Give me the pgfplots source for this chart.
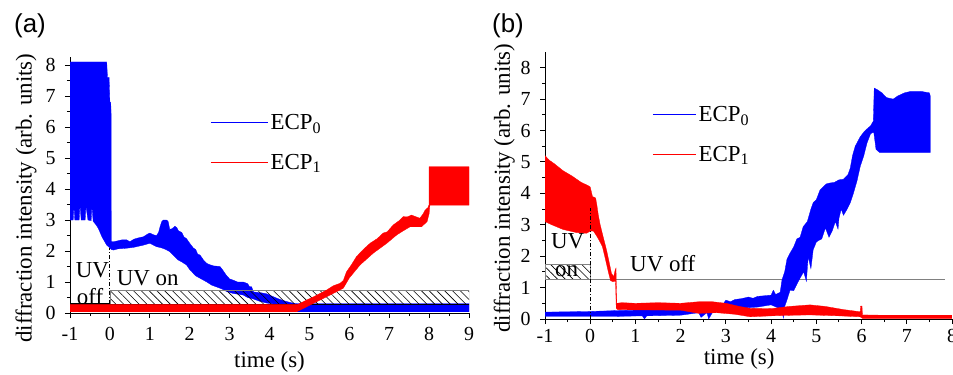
\documentclass[border=0pt]{standalone}
\usepackage{pgfplots}
\pgfplotsset{compat=1.18}
\usepackage{fontspec}
\setmainfont{Liberation Serif}
\newfontfamily\serifx{Liberation Serif}
\newfontfamily\panelfont{Liberation Sans}
\usetikzlibrary{patterns.meta}

\pgfplotsset{
  panel/.style={
    scale only axis, anchor=south west,
    axis lines=left, axis line style={-, line width=0.9pt},
    tick align=outside, major tick length=5bp, minor tick length=3bp,
    tick style={black, line width=0.9pt},
    minor x tick num=1, minor y tick num=1,
    ytick={0,1,2,3,4,5,6,7,8},
    yticklabels={0,1,2,3,4,5,6,7,8},
    ticklabel style={font=\serifx\fontsize{20}{20}\selectfont},
    yticklabel style={xshift=-6bp},
    label style={font=\serifx\fontsize{23}{23}\selectfont},
    legend style={draw=none, fill=none, font=\serifx\fontsize{23}{23}\selectfont,
      anchor=north west, inner sep=0pt, row sep=19bp,
      /tikz/every even column/.append style={column sep=6bp}},
    legend cell align=left,
  },
  hatch/.style={draw=gray, line width=0.6pt, pattern={Lines[angle=-45, distance=5.5bp, line width=0.6bp]}, pattern color=black},
  dd/.style={black, line width=1.1pt, dash pattern=on 4bp off 2bp on 1bp off 2bp},
}
\newcommand{\bigtxt}{\serifx\fontsize{23}{23}\selectfont}

\begin{document}
\begin{tikzpicture}
\path[use as bounding box] (0,0) rectangle (953bp,-375bp);

\node[anchor=base west, inner sep=0pt] at (14bp,-32bp) {\panelfont\fontsize{26}{26}\selectfont (a)};
\node[anchor=base west, inner sep=0pt] at (492bp,-32bp) {\panelfont\fontsize{26}{26}\selectfont (b)};

% ---------------- panel (a)
\begin{axis}[panel, at={(70bp,-313bp)}, width=399bp, height=256bp,
  xmin=-1, xmax=9, ymin=0, ymax=8.26,
  xtick={-1,0,1,2,3,4,5,6,7,8,9},
  xticklabels={-1,0,1,2,3,4,5,6,7,8,9},
  xticklabel style={yshift=-6bp},
  xlabel={time (s)}, ylabel={diffraction intensity (arb. units)},
  xlabel style={at={(axis description cs:0.5,-0.19)}, anchor=center},
  ylabel style={at={(axis description cs:-0.11,0.449)}, anchor=center},
  legend style={at={(axis description cs:0.351,0.785)}},
  legend image code/.code={\draw[#1] (0bp,0bp) -- (57bp,0bp);},
]
\addplot[forget plot, fill=blue, draw=blue, line width=0.3pt] coordinates {
(-1,8.1) (-0.08,8.1) (-0.06,7.6) (-0.02,7.6) (0.0,6.8) (0.02,6.8) (0.03,6.5) (0.035,2.3)
(0.1,2.3) (0.2,2.33) (0.3,2.36) (0.42,2.36) (0.5,2.3) (0.6,2.38) (0.7,2.42) (0.84,2.46)
(0.95,2.55) (1.0,2.58) (1.1,2.52) (1.17,2.5) (1.22,2.6) (1.26,2.8) (1.3,2.95) (1.34,3.0)
(1.42,3.0) (1.46,2.95) (1.5,2.7) (1.56,2.72) (1.63,2.8) (1.68,2.75) (1.72,2.65) (1.8,2.6)
(1.86,2.45) (1.92,2.4) (2.0,2.25) (2.09,2.1) (2.15,2.05) (2.2,1.9) (2.26,1.87) (2.35,1.7)
(2.43,1.6) (2.5,1.56) (2.6,1.52) (2.76,1.5) (2.82,1.4) (2.9,1.25) (2.93,1.2) (3.0,1.1)
(3.09,1.06) (3.2,1.0) (3.34,1.0) (3.45,0.95) (3.5,0.85) (3.55,0.85) (3.6,0.68) (3.8,0.65)
(3.93,0.62) (4.05,0.55) (4.18,0.48) (4.3,0.42) (4.43,0.37) (4.55,0.33) (4.68,0.3) (9,0.3)
(9,0.04) (4.7,0.04) (4.6,0.18) (4.4,0.25) (4.2,0.28) (3.93,0.32) (3.75,0.38) (3.6,0.45)
(3.45,0.5) (3.34,0.58) (3.09,0.63) (2.93,0.69) (2.85,0.75) (2.76,0.8) (2.55,0.9) (2.43,1.0)
(2.26,1.12) (2.15,1.2) (2.09,1.28) (2.0,1.4) (1.92,1.55) (1.8,1.65) (1.71,1.71) (1.6,1.85)
(1.5,1.98) (1.4,2.05) (1.3,2.1) (1.17,2.14) (1.0,2.25) (0.84,2.19) (0.6,2.12) (0.42,2.09)
(0.2,2.07) (0.09,2.03) (0.035,2.05) (0.0,2.1) (-0.08,2.19) (-0.2,2.46) (-0.29,2.73)
(-0.35,2.85) (-0.42,2.96) (-0.45,3.45) (-0.47,2.98) (-0.55,3.0) (-0.6,3.45) (-0.62,3.0)
(-0.72,3.0) (-0.75,3.5) (-0.77,3.0) (-0.88,3.0) (-0.9,3.45) (-0.92,3.0) (-1,3.0)
} -- cycle;
\node[anchor=base west, inner sep=0pt, font=\bigtxt] at (axis cs:-0.86,1.13) {UV};
\node[anchor=base west, inner sep=0pt, font=\bigtxt] at (axis cs:-0.83,0.26) {off};
\node[anchor=base west, inner sep=0pt, font=\bigtxt] at (axis cs:0.17,0.9) {UV on};
\addplot[forget plot, hatch] coordinates {(0,0.28) (9,0.28) (9,0.74) (0,0.74)} -- cycle;
\addplot[forget plot, black, line width=1.2pt] coordinates {(-1,0.29) (0,0.29)};
\addplot[forget plot, black, line width=0.5pt] coordinates {(0,0.28) (9,0.28)};
\addplot[forget plot, fill=red, draw=red, line width=0.3pt] coordinates {
(-1,0.27) (4.7,0.27) (4.93,0.42) (5.1,0.52) (5.25,0.62) (5.43,0.74) (5.6,0.88) (5.77,0.96)
(5.85,1.05) (5.93,1.33) (6.05,1.55) (6.18,1.82) (6.35,2.05) (6.52,2.25) (6.7,2.4) (6.85,2.58)
(6.95,2.62) (7.1,2.84) (7.25,2.98) (7.35,3.11) (7.45,3.1) (7.56,3.16) (7.68,3.1) (7.77,3.06)
(7.85,3.2) (7.9,3.32) (7.97,3.4) (8.0,3.5) (8.0,4.72) (9.0,4.72)
(9.0,3.48) (8.02,3.48) (8.0,3.2) (7.95,2.95) (7.81,2.78) (7.52,2.78) (7.35,2.65) (7.19,2.52)
(6.94,2.25) (6.6,1.93) (6.27,1.55) (6.0,1.13) (5.85,0.8) (5.52,0.58) (5.1,0.31) (4.9,0.18)
(4.68,0.04) (-1,0.04)
} -- cycle;
\addplot[forget plot, dd] coordinates {(0,0.3) (0,2.1)};
\addlegendimage{blue, line width=1.4bp}
\addlegendimage{red, line width=1.4bp}
\legend{ECP\textsubscript{0}, ECP\textsubscript{1}}
\end{axis}

% ---------------- panel (b)
\begin{axis}[panel, at={(545bp,-319bp)}, width=407bp, height=267bp,
  xmin=-1, xmax=8, ymin=0, ymax=8.5,
  xtick={-1,0,1,2,3,4,5,6,7,8},
  xticklabels={-1,0,1,2,3,4,5,6,7,8},
  xticklabel style={yshift=-2bp},
  xlabel={time (s)}, ylabel={diffraction intensity (arb. units)},
  xlabel style={at={(axis description cs:0.477,-0.15)}, anchor=center},
  ylabel style={at={(axis description cs:-0.1,0.49)}, anchor=center},
  legend style={at={(axis description cs:0.263,0.805)}},
  legend image code/.code={\draw[#1] (0bp,0bp) -- (43bp,0bp);},
]
\addplot[forget plot, hatch] coordinates {(-1,1.27) (0,1.27) (0,1.75) (-1,1.75)} -- cycle;
\addplot[forget plot, gray, line width=0.7pt] coordinates {(-1,1.27) (7.85,1.27)};
\addplot[forget plot, fill=blue, draw=blue, line width=0.3pt] coordinates {
(-1,0.22) (-0.5,0.23) (0,0.24) (0.6,0.27) (1.0,0.28) (1.5,0.3) (2.0,0.32) (2.4,0.38)
(2.8,0.45) (2.95,0.5) (3.0,0.6) (3.1,0.55) (3.2,0.62) (3.35,0.65) (3.5,0.7) (3.6,0.66)
(3.7,0.72) (3.85,0.74) (4.0,0.76) (4.05,0.92) (4.1,0.78) (4.2,0.85) (4.24,1.24) (4.3,1.5)
(4.35,1.9) (4.42,2.1) (4.5,2.3) (4.57,2.55) (4.64,2.6) (4.71,2.94) (4.8,3.1) (4.88,3.5)
(4.93,3.7) (5.0,3.8) (5.08,4.1) (5.15,4.2) (5.22,4.3) (5.3,4.33) (5.4,4.35) (5.5,4.43)
(5.6,4.45) (5.7,4.6) (5.75,4.8) (5.8,5.2) (5.86,5.5) (5.97,5.8) (6.05,5.95) (6.12,6.05)
(6.2,6.15) (6.26,6.3) (6.28,7.35) (6.35,7.3) (6.45,7.2) (6.55,7.05) (6.7,7.0) (6.8,7.1)
(6.95,7.2) (7.1,7.25) (7.3,7.25) (7.5,7.2) (7.52,7.1)
(7.52,5.3) (6.4,5.3) (6.32,5.4) (6.27,5.95) (6.2,5.9) (6.12,5.6) (6.05,5.2) (5.97,4.85)
(5.9,4.4) (5.82,4.0) (5.75,3.7) (5.67,3.47) (5.6,3.3) (5.55,3.5) (5.5,3.2) (5.48,2.86)
(5.42,3.1) (5.35,2.8) (5.28,2.6) (5.2,2.9) (5.12,2.55) (5.05,2.5) (5.0,2.45) (4.93,2.2)
(4.88,1.6) (4.82,1.98) (4.78,1.2) (4.72,1.5) (4.64,1.3) (4.55,1.05) (4.5,0.9) (4.42,0.92)
(4.35,0.6) (4.3,0.4) (4.27,0.03) (4.24,0.3) (4.0,0.45) (3.7,0.38) (3.4,0.35) (3.0,0.3)
(2.7,0.2) (2.62,0.0) (2.58,0.2) (2.45,0.05) (2.4,0.2) (2.0,0.12) (1.25,0.1) (1.2,0.0)
(1.15,0.1) (0.5,0.08) (-1,0.08)
} -- cycle;
\addplot[forget plot, fill=red, draw=red, line width=0.3pt] coordinates {
(-1,5.2) (-0.9,5.05) (-0.8,4.95) (-0.6,4.72) (-0.4,4.55) (-0.2,4.35) (-0.05,4.25) (0.0,4.2)
(0.05,3.9) (0.12,3.85) (0.15,3.6) (0.18,3.3) (0.22,3.0) (0.28,2.65) (0.36,2.2) (0.42,1.8)
(0.47,1.45) (0.52,1.35) (0.55,1.55) (0.57,1.62) (0.585,0.5) (0.7,0.52) (1.0,0.5) (1.5,0.52)
(2.0,0.5) (2.4,0.55) (2.7,0.55) (3.0,0.5) (3.3,0.4) (3.54,0.34) (4.0,0.33) (4.4,0.4)
(4.86,0.45) (5.2,0.4) (5.6,0.3) (5.97,0.23) (5.98,0.41) (6.01,0.41) (6.02,0.13) (6.5,0.12) (8,0.12)
(8,0.02) (6.02,0.02) (5.97,0.07) (5.5,0.1) (4.86,0.13) (4.5,0.12) (4.0,0.1) (3.54,0.07)
(3.2,0.15) (2.8,0.2) (2.4,0.18) (2.0,0.28) (1.0,0.29) (0.6,0.3) (0.575,0.35) (0.56,1.2)
(0.5,1.19) (0.45,1.22) (0.4,1.5) (0.34,1.88) (0.27,2.3) (0.2,2.5) (0.14,2.65) (0.07,2.8)
(0.0,2.8) (-0.08,2.73) (-0.3,2.75) (-0.6,2.85) (-0.85,3.0) (-1,3.1)
} -- cycle;
\addplot[forget plot, dd] coordinates {(0,0) (0,3.53)};
\node[anchor=base west, inner sep=0pt, font=\bigtxt] at (axis cs:-0.87,2.26) {UV};
\node[anchor=base west, inner sep=0pt, font=\bigtxt] at (axis cs:-0.78,1.35) {on};
\node[anchor=base west, inner sep=0pt, font=\bigtxt] at (axis cs:0.88,1.5) {UV off};
\addlegendimage{blue, line width=1.4bp}
\addlegendimage{red, line width=1.4bp}
\legend{ECP\textsubscript{0}, ECP\textsubscript{1}}
\end{axis}
\end{tikzpicture}
\end{document}
